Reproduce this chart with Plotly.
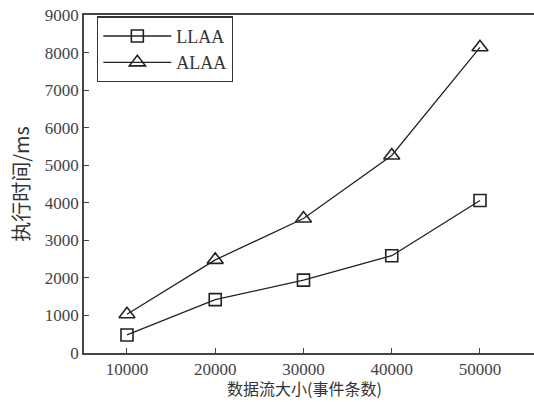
import plotly.graph_objects as go

# Event stream sizes (number of events) and execution times in ms
stream_sizes = [10000, 20000, 30000, 40000, 50000]
llaa_ms = [480, 1420, 1940, 2590, 4060]
alaa_ms = [1030, 2480, 3580, 5260, 8140]

x_ticks = [10000, 20000, 30000, 40000, 50000]
y_ticks = [0, 1000, 2000, 3000, 4000, 5000, 6000, 7000, 8000, 9000]

x_title = "数据流大小(事件条数)"
y_title = "执行时间/ms"

line_color = "#222222"
axis_color = "#444444"
num_font = "Liberation Serif, DejaVu Serif, serif"
cjk_font = "Noto Sans CJK SC, sans-serif"

fig = go.Figure()
fig.add_trace(go.Scatter(
    x=stream_sizes, y=llaa_ms, name="LLAA", mode="lines+markers",
    line=dict(color=line_color, width=1.3),
    marker=dict(symbol="square-open", size=12, color=line_color,
                line=dict(width=1.6, color=line_color)),
))
fig.add_trace(go.Scatter(
    x=stream_sizes, y=alaa_ms, name="ALAA", mode="lines+markers",
    line=dict(color=line_color, width=1.3),
    marker=dict(symbol="triangle-up-open", size=14, color=line_color,
                line=dict(width=1.6, color=line_color)),
))

fig.update_layout(
    width=534, height=402,
    margin=dict(l=84, r=0, t=15, b=49),
    paper_bgcolor="white", plot_bgcolor="white",
    showlegend=True,
    legend=dict(
        x=0.029, y=0.898, xanchor="left", yanchor="middle",
        bgcolor="white", bordercolor="#333333", borderwidth=1.3,
        font=dict(family=num_font, size=18, color="#333333"),
        itemwidth=68, tracegroupgap=0,
    ),
    annotations=[
        # x-axis title, sitting at the bottom edge under the tick labels
        dict(text=x_title, xref="paper", yref="paper", x=0.49, y=-0.146,
             xanchor="center", yanchor="bottom", showarrow=False,
             font=dict(family=cjk_font, size=16, color="#333333")),
    ],
)

fig.update_xaxes(
    range=[5130, 56120], tickvals=x_ticks,
    ticktext=[str(v) for v in x_ticks],
    ticks="inside", ticklen=5, tickwidth=1.2, tickcolor=axis_color,
    showline=True, linecolor=axis_color, linewidth=1.5, mirror=True,
    showgrid=False, zeroline=False,
    tickfont=dict(family=num_font, size=17, color="#444444"),
)
fig.update_yaxes(
    range=[0, 9000], tickvals=y_ticks,
    ticktext=[str(v) for v in y_ticks],
    ticks="inside", ticklen=5, tickwidth=1.2, tickcolor=axis_color,
    showline=True, linecolor=axis_color, linewidth=1.5, mirror=False,
    showgrid=False, zeroline=False,
    tickfont=dict(family=num_font, size=17, color="#444444"),
    title=dict(text=y_title, standoff=10,
               font=dict(family=cjk_font, size=20, color="#333333")),
)

fig.write_html("out.html")
